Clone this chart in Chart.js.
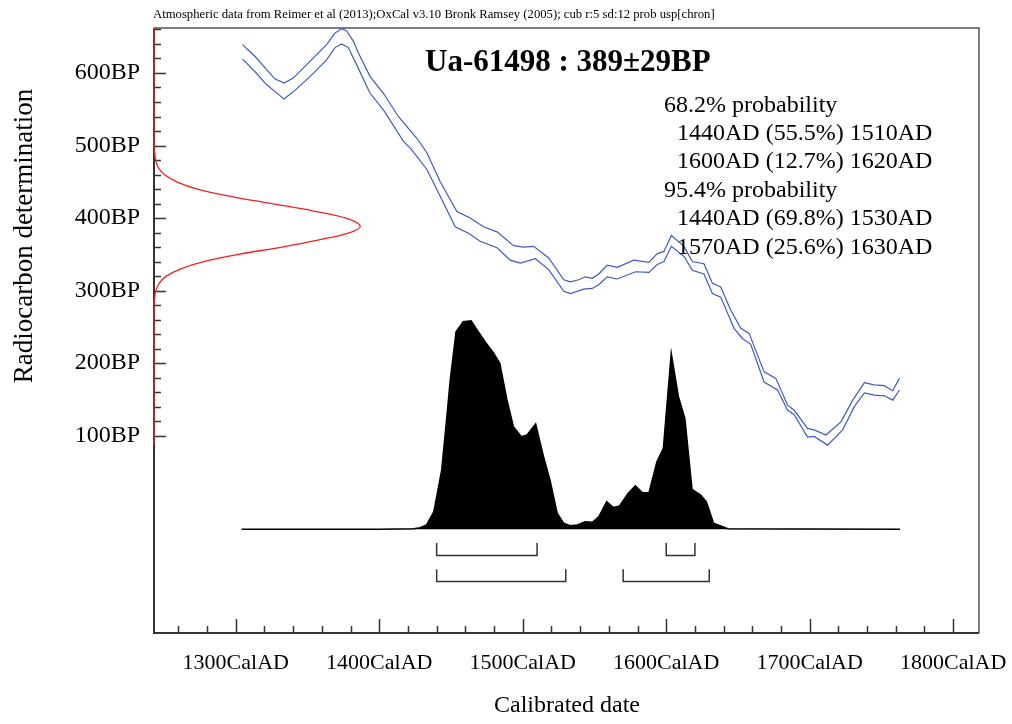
<!DOCTYPE html>
<html>
<head>
<meta charset="utf-8">
<script src="https://cdn.jsdelivr.net/npm/chart.js@4.4.1/dist/chart.umd.min.js"></script>
<style>
  body { margin: 0; background: #fff; }
  #wrap { width: 1012px; height: 724px; }
</style>
</head>
<body>
<div id="wrap"><canvas id="myChart"></canvas></div>
<script>
// calibration curve, upper and lower edge (cal AD -> BP)
const upperYears = [1304.7, 1313.3, 1321.4, 1327.2, 1333.7, 1340.0, 1351.7, 1363.3, 1369.1, 1373.8, 1377.3, 1381.9, 1385.4, 1393.6, 1402.9, 1413.3, 1426.2, 1433.2, 1442.5, 1454.1, 1463.4, 1472.7, 1482.1, 1493.6, 1500.6, 1507.6, 1518.1, 1528.6, 1533.2, 1539.0, 1543.7, 1548.4, 1553.0, 1558.9, 1565.9, 1577.4, 1587.9, 1593.8, 1598.4, 1603.6, 1612.4, 1618.2, 1626.3, 1632.2, 1638.0, 1645.0, 1652.0, 1657.8, 1668.2, 1676.4, 1684.6, 1689.2, 1698.5, 1703.1, 1711.3, 1721.8, 1730.0, 1738.1, 1745.0, 1752.0, 1757.9, 1762.5];
const upperBP = [639, 623, 605, 592, 586, 593, 616, 639, 655, 661, 658, 644, 628, 595, 572, 540, 510, 490, 450, 409, 400, 388, 381, 362, 360, 361, 345, 315, 312, 315, 319, 317, 323, 335, 332, 342, 339, 351, 354, 376, 361, 340, 337, 310, 305, 273, 248, 241, 188, 179, 142, 135, 110, 108, 101, 119, 149, 173, 170, 169, 162, 179];

const lowerYears = [1304.7, 1313.3, 1321.4, 1333.7, 1340.0, 1351.7, 1363.3, 1369.1, 1373.8, 1378.4, 1383.1, 1393.6, 1402.9, 1416.8, 1422.7, 1433.2, 1442.5, 1452.9, 1462.2, 1470.4, 1482.1, 1491.3, 1498.3, 1508.8, 1518.1, 1528.6, 1533.2, 1542.5, 1548.4, 1553.0, 1558.9, 1565.9, 1578.6, 1587.9, 1593.8, 1598.4, 1603.6, 1612.4, 1618.2, 1626.3, 1632.2, 1638.0, 1647.3, 1653.1, 1658.9, 1668.2, 1677.6, 1684.6, 1689.2, 1698.5, 1703.1, 1712.5, 1723.0, 1731.1, 1738.1, 1745.0, 1752.0, 1757.9, 1762.5];
const lowerBP = [619, 602, 584, 564, 574, 595, 618, 635, 640, 635, 616, 572, 549, 506, 494, 467, 430, 388, 379, 368, 359, 342, 338, 344, 329, 299, 296, 302, 303, 308, 319, 316, 326, 325, 336, 340, 361, 347, 328, 323, 296, 291, 248, 234, 226, 174, 163, 135, 129, 98, 99, 87, 108, 140, 159, 156, 155, 149, 163];

// calibrated probability (relative, peak = 1)
const distYears = [1304, 1400, 1424, 1428.5, 1433, 1438, 1440, 1443.5, 1446, 1449.5, 1453.5, 1458.5, 1464, 1469, 1474.5, 1479.5, 1484, 1489, 1493.5, 1499, 1503, 1509, 1514.5, 1519, 1524, 1528.5, 1533, 1538, 1543.5, 1548.5, 1553, 1558.5, 1563, 1567.5, 1573.5, 1578.5, 1583.5, 1588, 1593.5, 1598, 1603.5, 1608.5, 1613, 1618, 1624, 1628, 1633, 1643, 1763];
const distProb = [0, 0, 0.003, 0.008, 0.021, 0.084, 0.156, 0.284, 0.46, 0.716, 0.947, 0.995, 1.0, 0.947, 0.892, 0.847, 0.796, 0.62, 0.492, 0.444, 0.452, 0.505, 0.348, 0.236, 0.077, 0.029, 0.017, 0.021, 0.036, 0.034, 0.06, 0.132, 0.105, 0.112, 0.173, 0.208, 0.175, 0.175, 0.324, 0.388, 0.844, 0.636, 0.532, 0.192, 0.164, 0.132, 0.029, 0.003, 0];

// radiocarbon measurement 389 +- 29 BP
const measBP = [662, 500, 490, 480, 470, 460, 450, 440, 430, 420, 410, 400, 389, 380, 370, 360, 350, 340, 330, 320, 310, 300, 290, 280, 87];
const measDensity = [0, 0, 0.003, 0.008, 0.02, 0.05, 0.11, 0.21, 0.37, 0.57, 0.77, 0.93, 1.0, 0.95, 0.80, 0.62, 0.41, 0.24, 0.13, 0.06, 0.025, 0.009, 0.003, 0, 0];

// ranges
const range68From = [1440, 1600];
const range68To = [1510, 1620];
const range95From = [1440, 1570];
const range95To = [1530, 1630];

const xMajorTicks = [1300, 1400, 1500, 1600, 1700, 1800];
const yMajorTicks = [100, 200, 300, 400, 500, 600];

const header = 'Atmospheric data from Reimer et al (2013);OxCal v3.10 Bronk Ramsey (2005); cub r:5 sd:12 prob usp[chron]';
const sampleTitle = 'Ua-61498 : 389\u00b129BP';
const rangeText = [
  ['68.2% probability', 0],
  ['1440AD (55.5%) 1510AD', 1],
  ['1600AD (12.7%) 1620AD', 1],
  ['95.4% probability', 0],
  ['1440AD (69.8%) 1530AD', 1],
  ['1570AD (25.6%) 1630AD', 1]
];

const serif = "'Liberation Serif', 'Times New Roman', serif";

function pairs(xs, ys) {
  return xs.map((x, i) => ({ x: x, y: ys[i] }));
}

function brackets(from, to, top, bottom) {
  let pts = [];
  for (let i = 0; i < from.length; i++) {
    pts.push({ x: from[i], y: top }, { x: from[i], y: bottom }, { x: to[i], y: bottom }, { x: to[i], y: top }, { x: to[i], y: null });
  }
  return pts;
}

const oxcalAxes = {
  id: 'oxcalAxes',
  beforeDatasetsDraw(chart) {
    const c = chart.ctx, a = chart.chartArea;
    const sx = chart.scales.x, sy = chart.scales.y;
    c.save();
    c.lineCap = 'butt';
    // frame
    c.strokeStyle = '#555';
    c.lineWidth = 1.5;
    c.beginPath();
    c.moveTo(a.left, a.top); c.lineTo(a.right, a.top); c.lineTo(a.right, a.bottom);
    c.stroke();
    c.strokeStyle = '#333';
    c.lineWidth = 2;
    c.beginPath();
    c.moveTo(a.left, a.top); c.lineTo(a.left, a.bottom); c.lineTo(a.right, a.bottom);
    c.stroke();
    // ticks
    c.lineWidth = 1.5;
    for (let v = 1260; v <= 1800; v += 20) {
      const px = Math.round(sx.getPixelForValue(v)) + 0.5;
      const len = v % 100 === 0 ? 14 : 7;
      c.beginPath(); c.moveTo(px, a.bottom); c.lineTo(px, a.bottom - len); c.stroke();
    }
    for (let v = 100; v <= 660; v += 20) {
      const py = Math.round(sy.getPixelForValue(v)) + 0.5;
      const len = v % 100 === 0 ? 12 : 7;
      c.beginPath(); c.moveTo(a.left, py); c.lineTo(a.left + len, py); c.stroke();
    }
    c.restore();
  },
  afterDraw(chart) {
    const c = chart.ctx;
    const sx = chart.scales.x, sy = chart.scales.y;
    c.save();
    c.fillStyle = '#000';
    // tick labels
    c.font = '22px ' + serif;
    c.textAlign = 'center';
    c.textBaseline = 'middle';
    xMajorTicks.forEach(v => c.fillText(v + 'CalAD', sx.getPixelForValue(v), 663));
    c.font = '24px ' + serif;
    c.textAlign = 'right';
    yMajorTicks.forEach(v => c.fillText(v + 'BP', 140, sy.getPixelForValue(v)));
    // axis titles
    c.font = '24px ' + serif;
    c.textAlign = 'center';
    c.fillText('Calibrated date', 567, 706);
    c.save();
    c.translate(25, 236);
    c.rotate(-Math.PI / 2);
    c.font = '27px ' + serif;
    c.fillText('Radiocarbon determination', 0, 0);
    c.restore();
    // header
    c.font = '12.7px ' + serif;
    c.textAlign = 'left';
    c.textBaseline = 'alphabetic';
    c.fillText(header, 153, 18);
    // sample name
    c.font = 'bold 31px ' + serif;
    c.fillText(sampleTitle, 425, 71);
    // ranges
    c.font = '24px ' + serif;
    rangeText.forEach((r, i) => c.fillText(r[0], r[1] ? 677 : 664, 111.5 + i * 28.4));
    c.restore();
  }
};

const ctx = document.getElementById('myChart');

new Chart(ctx, {
  type: 'line',
  data: {
    datasets: [
      {
        label: 'prob',
        data: pairs(distYears, distProb),
        yAxisID: 'y2',
        borderColor: '#000',
        backgroundColor: '#000',
        borderWidth: 1.5,
        fill: 'origin',
        pointRadius: 0,
        tension: 0
      },
      {
        label: 'upper',
        data: pairs(upperYears, upperBP),
        borderColor: '#3f5cbd',
        borderWidth: 1.2,
        pointRadius: 0,
        fill: false,
        tension: 0
      },
      {
        label: 'lower',
        data: pairs(lowerYears, lowerBP),
        borderColor: '#3f5cbd',
        borderWidth: 1.2,
        pointRadius: 0,
        fill: false,
        tension: 0
      },
      {
        label: 'measurement',
        data: pairs(measDensity, measBP),
        xAxisID: 'x2',
        borderColor: '#ee2020',
        borderWidth: 1.3,
        pointRadius: 0,
        fill: false,
        tension: 0.35,
        clip: 4
      },
      {
        label: '68',
        data: brackets(range68From, range68To, -48, -65),
        borderColor: '#333',
        borderWidth: 1.5,
        pointRadius: 0,
        spanGaps: false,
        tension: 0
      },
      {
        label: '95',
        data: brackets(range95From, range95To, -84, -101),
        borderColor: '#333',
        borderWidth: 1.5,
        pointRadius: 0,
        spanGaps: false,
        tension: 0
      }
    ]
  },
  options: {
    responsive: true,
    maintainAspectRatio: false,
    animation: false,
    events: [],
    layout: { padding: { left: 154, right: 33, top: 28, bottom: 91 } },
    plugins: { legend: { display: false }, tooltip: { enabled: false } },
    scales: {
      x: { type: 'linear', min: 1243, max: 1818, display: false },
      y: { type: 'linear', min: -172, max: 662, display: false },
      x2: { type: 'linear', min: 0, max: 4.0, display: false },
      y2: { type: 'linear', min: -0.497, max: 2.403, display: false }
    }
  },
  plugins: [oxcalAxes]
});
</script>
</body>
</html>
